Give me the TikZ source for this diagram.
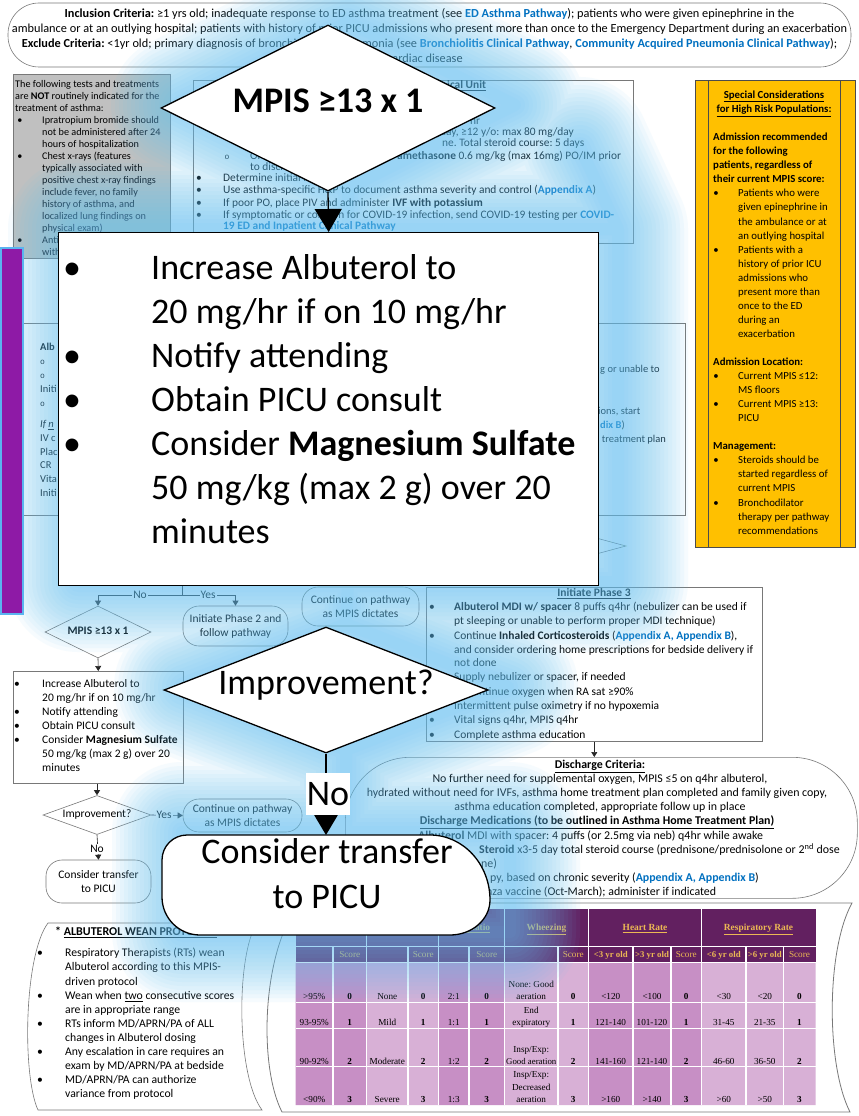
\documentclass[tikz,border=0pt]{standalone}
\usepackage{fontspec}
\setmainfont{Carlito}
\newfontfamily\tabfont{Liberation Serif}
\newfontfamily\monofont{Liberation Mono}
\usetikzlibrary{arrows.meta,shapes.geometric}

\definecolor{linkc}{RGB}{0,112,192}
\definecolor{edge}{RGB}{120,120,120}
\definecolor{grayfill}{RGB}{192,192,192}
\definecolor{gold}{RGB}{255,192,0}
\definecolor{barpurple}{RGB}{142,26,166}
\definecolor{barblue}{RGB}{90,180,240}
\definecolor{glowc}{RGB}{100,195,245}
\definecolor{hdrpurple}{RGB}{98,32,96}
\definecolor{hdrtext}{RGB}{236,184,84}
\definecolor{cellA}{RGB}{199,143,197}
\definecolor{cellB}{RGB}{216,176,214}

\newcommand\fs[1]{\fontsize{#1}{#1}\selectfont}
\newcommand\lnk[1]{\textcolor{linkc}{\textbf{#1}}}
\newcommand\subb{{\monofont\fs{8}o}}

% soft halo behind the enlarged flow
\newcommand\glowlayer[2]{%
  \draw[glowc, line width=#1pt, opacity=#2, line join=round, line cap=round]
    (328,25) -- (495,108) -- (328,191) -- (161,108) -- cycle
    (328,191) -- (328,232)
    (560,150) -- (598,232)
    (58,232) rectangle (598,585)
    (328,585) -- (326,627)
    (326,627) -- (488,690) -- (326,753) -- (164,690) -- cycle
    (326,753) -- (326,835)
    (162,835) rectangle (490,935);}

\begin{document}
\frenchspacing
\begin{tikzpicture}[x=1pt,y=-1pt,
  t/.style={inner sep=0pt, anchor=west, text height=.7em, text depth=.2em},
  tm/.style={inner sep=0pt, anchor=center, text height=.7em, text depth=.2em},
  basebox/.style={draw=edge, line width=.6pt, inner sep=0pt},
  conn/.style={draw=black!85, line width=.6pt},
  arr/.style={conn, -{Triangle[length=5pt,width=6pt]}},
  pill/.style={basebox, rounded corners=16pt, align=center, font=\fontsize{11.5}{14}\selectfont},
  lab/.style={fill=white, inner sep=1pt, font=\fs{11.5}},
  big/.style={draw=black, line width=1.3pt, fill=white, inner sep=0pt},
  bigarr/.style={draw=black, line width=1.3pt, -{Triangle[length=23pt,width=27pt]}},
  tcell/.style={tm, font=\tabfont\fs{9.2}},
  tbold/.style={tm, font=\tabfont\bfseries\fs{9.2}},
  thead/.style={tm, font=\tabfont\bfseries\fs{9.4}, text=hdrtext}
]
\useasboundingbox (0,0) rectangle (859,1116);
\fill[white] (0,0) rectangle (859,1116);

% ---------------- header ----------------
\node[basebox, rounded corners=31pt, minimum width=843pt, minimum height=64pt] (hdr) at (429.5,35) {};
\begin{scope}[font=\fs{12.3}]
\node[tm] (hl1) at (429.5,15.5) {\textbf{Inclusion Criteria:} ≥1 yrs old; inadequate response to ED asthma treatment (see \lnk{ED Asthma Pathway}); patients who were given epinephrine in the};
\node[tm] (hl2) at (429.5,30.5) {ambulance or at an outlying hospital; patients with history of prior PICU admissions who present more than once to the Emergency Department during an exacerbation};
\node[tm] (hl3) at (429.5,45.5) {\textbf{Exclude Criteria:} <1yr old; primary diagnosis of bronchiolitis or pneumonia (see \lnk{Bronchiolitis Clinical Pathway}, \lnk{Community Acquired Pneumonia Clinical Pathway});};
\node[tm] (hl4) at (425,60) {cardiac disease};
\end{scope}

% ---------------- not-indicated box ----------------
\node[basebox, fill=grayfill, anchor=north west, minimum width=157pt, minimum height=184pt] (gray) at (13,74) {};
\begin{scope}[font=\fs{10.2}]
\node[t] (g0) at (15,85.5) {The following tests and treatments};
\node[t] (g1) at (15,97.4) {are \textbf{NOT} routinely indicated for the};
\node[t] (g2) at (15,109.4) {treatment of asthma:};
\node[tm] (gb1) at (20,121.3) {•};
\node[t] (g3) at (42,121.3) {Ipratropium bromide should};
\node[t] (g4) at (42,133.2) {not be administered after 24};
\node[t] (g5) at (42,145.2) {hours of hospitalization};
\node[tm] (gb2) at (20,157.1) {•};
\node[t] (g6) at (42,157.1) {Chest x-rays (features};
\node[t] (g7) at (42,169.0) {typically associated with};
\node[t] (g8) at (42,181.0) {positive chest x-ray findings};
\node[t] (g9) at (42,192.9) {include fever, no family};
\node[t] (g10) at (42,204.8) {history of asthma, and};
\node[t] (g11) at (42,216.8) {localized lung findings on};
\node[t] (g12) at (42,228.7) {physical exam)};
\node[tm] (gb3) at (20,240.6) {•};
\node[t] (g13) at (42,240.6) {Anti};
\node[t] (g14) at (42,252.5) {with};
\end{scope}

% ---------------- phase 1 box ----------------
\node[basebox, anchor=north west, minimum width=440pt, minimum height=163pt] (p1) at (193,80) {};
\begin{scope}[font=\fs{11.4}]
\node[t] (p1h) at (447,86) {\textbf{\underline{ical Unit}}};
\node[t] (p1a) at (470,122) {hr};
\node[t] (p1b) at (440,133) {day, ≥12 y/o: max 80 mg/day};
\node[t] (p1c) at (442,144) {ne. Total steroid course: 5 days};
\node[tm] (p1s) at (227,157) {\subb};
\node[t] (p1d) at (250,157) {One};
\node[t] (p1e) at (397,157) {\textbf{amethasone} 0.6 mg/kg (max 16mg) PO/IM prior};
\node[t] (p1f) at (250,168) {to discharge};
\node[tm] (p1b1) at (199,179) {•};
\node[t] (p1g) at (223,179) {Determine initial MPIS};
\node[tm] (p1b2) at (199,191) {•};
\node[t] (p1h2) at (223,191) {Use asthma-specific H\&P to document asthma severity and control (\lnk{Appendix A})};
\node[tm] (p1b3) at (199,204) {•};
\node[t] (p1i) at (223,204) {If poor PO, place PIV and administer \textbf{IVF with potassium}};
\node[tm] (p1b4) at (199,216) {•};
\node[t] (p1j) at (223,216) {If symptomatic or concern for COVID-19 infection, send COVID-19 testing per \lnk{COVID-}};
\node[t] (p1k) at (223,227) {\lnk{19 ED and Inpatient Clinical Pathway}};
\end{scope}

% ---------------- high risk populations ----------------
\node[draw=black!70, line width=.8pt, fill=gold, anchor=north west, minimum width=160pt, minimum height=467pt, inner sep=0pt] (spec) at (695,80) {};
\draw[black!70, line width=.8pt] (708,80) -- (708,547) (840,80) -- (840,547);
\begin{scope}[font=\fs{10.8}]
\node[tm] (s0) at (774,96) {\textbf{\underline{Special Considerations}}};
\node[tm] (s1) at (774,110) {\textbf{\underline{for High Risk Populations:}}};
\node[t] (s3) at (713,138.2) {\textbf{Admission recommended}};
\node[t] (s4) at (713,152.2) {\textbf{for the following}};
\node[t] (s5) at (713,166.3) {\textbf{patients, regardless of}};
\node[t] (s6) at (713,180.3) {\textbf{their current MPIS score:}};
\node[tm] (sb1) at (716,194.4) {•};
\node[t] (s7) at (738,194.4) {Patients who were};
\node[t] (s8) at (738,208.4) {given epinephrine in};
\node[t] (s9) at (738,222.5) {the ambulance or at};
\node[t] (s10) at (738,236.5) {an outlying hospital};
\node[tm] (sb2) at (716,250.6) {•};
\node[t] (s11) at (738,250.6) {Patients with a};
\node[t] (s12) at (738,264.6) {history of prior ICU};
\node[t] (s13) at (738,278.7) {admissions who};
\node[t] (s14) at (738,292.7) {present more than};
\node[t] (s15) at (738,306.8) {once to the ED};
\node[t] (s16) at (738,320.8) {during an};
\node[t] (s17) at (738,334.9) {exacerbation};
\node[t] (s19) at (713,363.0) {\textbf{Admission Location:}};
\node[tm] (sb3) at (716,377.0) {•};
\node[t] (s20) at (738,377.0) {Current MPIS ≤12:};
\node[t] (s21) at (738,391.1) {MS floors};
\node[tm] (sb4) at (716,405.1) {•};
\node[t] (s22) at (738,405.1) {Current MPIS ≥13:};
\node[t] (s23) at (738,419.2) {PICU};
\node[t] (s25) at (713,447.3) {\textbf{Management:}};
\node[tm] (sb5) at (716,461.3) {•};
\node[t] (s26) at (738,461.3) {Steroids should be};
\node[t] (s27) at (738,475.4) {started regardless of};
\node[t] (s28) at (738,489.4) {current MPIS};
\node[tm] (sb6) at (716,503.5) {•};
\node[t] (s29) at (738,503.5) {Bronchodilator};
\node[t] (s30) at (738,517.5) {therapy per pathway};
\node[t] (s31) at (738,531.6) {recommendations};
\end{scope}

% ---------------- phase 2 box ----------------
\node[basebox, anchor=north west, minimum width=663pt, minimum height=192pt] (p2) at (22,323) {};
\begin{scope}[font=\fs{10.5}]
\node[t] (q0) at (40,348) {\textbf{Alb}};
\node[t] (q1) at (40,362) {\subb};
\node[t] (q2) at (40,376) {\subb};
\node[t] (q3) at (40,390) {Initi};
\node[t] (q4) at (40,404) {\subb};
\node[t] (q5) at (40,425) {\textit{If \underline{n}}};
\node[t] (q6) at (40,439) {IV c};
\node[t] (q7) at (40,453) {Plac};
\node[t] (q8) at (40,466) {CR};
\node[t] (q9) at (40,480) {Vita};
\node[t] (q10) at (40,494) {Initi};
\node[t] (q11) at (600,370) {g or unable to};
\node[t] (q12) at (598,412) {ions, start};
\node[t] (q13) at (600,426) {\lnk{dix B})};
\node[t] (q14) at (594,440) {e treatment plan};
\end{scope}
\node[diamond, basebox, minimum width=252pt, minimum height=68pt] (p2dec) at (500,546) {};

% ---------------- small decision flow ----------------
\coordinate (p2out) at (182,560);
\coordinate (split) at (182,595);
\node[diamond, basebox, minimum width=106pt, minimum height=52pt] (sd1) at (98,632) {};
\node[tm, font=\bfseries\fs{11.5}] (sd1t) at (sd1) {MPIS ≥13 x 1};
\node[pill, minimum width=105pt, minimum height=40pt] (rb1) at (235.5,626) {Initiate Phase 2 and\\follow pathway};
\node[pill, minimum width=117pt, minimum height=39pt] (rb2) at (360.5,606.5) {Continue on pathway\\as MPIS dictates};
\draw[conn] (p2out) -- (split);
\draw[arr] (split) -| (sd1.north);
\draw[arr] (split) -| (rb1.north);
\node[lab] (noA) at (140,595) {No};
\node[lab] (yesA) at (208,595) {Yes};

\node[basebox, anchor=north west, minimum width=170pt, minimum height=112pt] (sbox) at (13,671) {};
\draw[arr] (sd1.south) -- (sbox.north);
\begin{scope}[font=\fs{11.5}]
\node[tm] (sbb1) at (17,685) {•};
\node[t] (sl0) at (42,685) {Increase Albuterol to};
\node[t] (sl1) at (42,699) {20 mg/hr if on 10 mg/hr};
\node[tm] (sbb2) at (17,713) {•};
\node[t] (sl2) at (42,713) {Notify attending};
\node[tm] (sbb3) at (17,727) {•};
\node[t] (sl3) at (42,727) {Obtain PICU consult};
\node[tm] (sbb4) at (17,741) {•};
\node[t] (sl4) at (42,741) {Consider \textbf{Magnesium Sulfate}};
\node[t] (sl5) at (42,755) {50 mg/kg (max 2 g) over 20};
\node[t] (sl6) at (42,769) {minutes};
\end{scope}

\node[diamond, basebox, minimum width=108pt, minimum height=39pt] (sd2) at (97,815) {};
\node[tm, font=\fs{11.5}] (sd2t) at (sd2) {Improvement?};
\draw[arr] (sbox.south -| sd2.north) -- (sd2.north);
\node[pill, minimum width=119pt, minimum height=33pt] (rb3) at (242.5,815.5) {Continue on pathway\\as MPIS dictates};
\node[pill, minimum width=105pt, minimum height=43pt] (rb4) at (98.5,881.5) {Consider transfer\\to PICU};
\draw[arr] (sd2.east) -- (rb3.west);
\draw[arr] (sd2.south) -- (rb4.north);
\node[lab] (yesB) at (164,815) {Yes};
\node[lab] (noB) at (97,849) {No};

% ---------------- phase 3 box ----------------
\node[basebox, anchor=north west, minimum width=336pt, minimum height=154pt] (p3) at (426,587) {};
\begin{scope}[font=\fs{11.5}]
\node[tm] (p3h) at (594,594) {\textbf{\underline{Initiate Phase 3}}};
\node[tm] (p3b1) at (432,608) {•};
\node[t] (p30) at (454,608) {\textbf{Albuterol MDI w/ spacer} 8 puffs q4hr (nebulizer can be used if};
\node[t] (p31) at (454,622) {pt sleeping or unable to perform proper MDI technique)};
\node[tm] (p3b2) at (432,637) {•};
\node[t] (p32) at (454,637) {Continue \textbf{Inhaled Corticosteroids} (\lnk{Appendix A, Appendix B}),};
\node[t] (p33) at (454,651) {and consider ordering home prescriptions for bedside delivery if};
\node[t] (p34) at (454,664) {not done};
\node[t] (p35) at (454,678) {Supply nebulizer or spacer, if needed};
\node[t] (p36) at (454,693) {Discontinue oxygen when RA sat ≥90\%};
\node[t] (p37) at (454,707) {Intermittent pulse oximetry if no hypoxemia};
\node[tm] (p3b6) at (432,721) {•};
\node[t] (p38) at (454,721) {Vital signs q4hr, MPIS q4hr};
\node[tm] (p3b7) at (432,736) {•};
\node[t] (p39) at (454,736) {Complete asthma education};
\end{scope}

% ---------------- discharge ----------------
\node[basebox, rounded corners=65pt, anchor=north west, minimum width=512pt, minimum height=141pt] (dis) at (345,757) {};
\draw[arr] (p3.south) -- (dis.north -| p3.south);
\begin{scope}[font=\fs{11.9}]
\node[tm] (d0) at (600,766) {\textbf{\underline{Discharge Criteria:}}};
\node[tm] (d1) at (600,780) {No further need for supplemental oxygen, MPIS ≤5 on q4hr albuterol,};
\node[tm] (d2) at (597,794) {hydrated without need for IVFs, asthma home treatment plan completed and family given copy,};
\node[tm] (d3) at (600,808) {asthma education completed, appropriate follow up in place};
\node[tm] (d4) at (597,822) {\textbf{\underline{Discharge Medications (to be outlined in Asthma Home Treatment Plan)}}};
\node[t] (d5) at (418,837) {\textbf{Albuterol} MDI with spacer: 4 puffs (or 2.5mg via neb) q4hr while awake};
\node[t] (d6) at (479,851) {\textbf{Steroid} x3-5 day total steroid course (prednisone/prednisolone or 2\textsuperscript{nd} dose};
\node[t] (d7) at (481,865) {ne)};
\node[t] (d8) at (490,879) {py, based on chronic severity (\lnk{Appendix A, Appendix B})};
\node[t] (d9) at (486,893) {nza vaccine (Oct-March); administer if indicated};
\end{scope}

% ---------------- albuterol wean protocol ----------------
\draw[draw=edge, line width=.6pt] (48,923) -- (257,923) .. controls (236,955) and (236,1075) .. (262,1110)
   -- (38,1110) .. controls (22,1075) and (24,955) .. (48,923) -- cycle;
\node[t, font=\bfseries\fs{12}] (w0) at (55,933) {* \underline{ALBUTEROL WEAN PROTOCOL:}};
\begin{scope}[font=\fs{11.7}]
\node[tm] (wb1) at (40,954) {•};
\node[t] (w1) at (65,954) {Respiratory Therapists (RTs) wean};
\node[t] (w2) at (65,968) {Albuterol according to this MPIS-};
\node[t] (w3) at (65,983) {driven protocol};
\node[tm] (wb2) at (40,997) {•};
\node[t] (w4) at (65,997) {Wean when \underline{two} consecutive scores};
\node[t] (w5) at (65,1011) {are in appropriate range};
\node[tm] (wb3) at (40,1025) {•};
\node[t] (w6) at (65,1025) {RTs inform MD/APRN/PA of ALL};
\node[t] (w7) at (65,1039) {changes in Albuterol dosing};
\node[tm] (wb4) at (40,1053) {•};
\node[t] (w8) at (65,1053) {Any escalation in care requires an};
\node[t] (w9) at (65,1067) {exam by MD/APRN/PA at bedside};
\node[tm] (wb5) at (40,1081) {•};
\node[t] (w10) at (65,1081) {MD/APRN/PA can authorize};
\node[t] (w11) at (65,1095) {variance from protocol};
\end{scope}

% ---------------- MPIS score table ----------------
\draw[draw=edge, line width=.8pt] (300,903) -- (852,903) .. controls (826,950) and (826,1065) .. (850,1112)
   -- (282,1112) .. controls (258,1065) and (262,950) .. (300,903) -- cycle;
\fill[hdrpurple] (295.5,909) rectangle (815.5,962.5);
\fill[cellA] (295.5,962.5) rectangle (366.5,1105) (438.5,962.5) rectangle (504.5,1105) (588.5,962.5) rectangle (701.5,1105);
\fill[cellB] (366.5,962.5) rectangle (438.5,1105) (504.5,962.5) rectangle (588.5,1105) (701.5,962.5) rectangle (815.5,1105);
\draw[white, line width=1.5pt]
  (295.5,946.5) -- (815.5,946.5) (295.5,962.5) -- (815.5,962.5)
  (295.5,1002.5) -- (815.5,1002.5) (295.5,1028.5) -- (815.5,1028.5) (295.5,1066.5) -- (815.5,1066.5)
  (366.5,909) -- (366.5,1105) (438.5,909) -- (438.5,1105) (504.5,909) -- (504.5,1105)
  (588.5,909) -- (588.5,1105) (701.5,909) -- (701.5,1105)
  (333,946.5) -- (333,1105) (408,946.5) -- (408,1105) (469,946.5) -- (469,1105) (558,946.5) -- (558,1105)
  (633,946.5) -- (633,1105) (671,946.5) -- (671,1105) (746,946.5) -- (746,1105) (783.5,946.5) -- (783.5,1105);
\node[thead] (th3) at (471.5,928) {\underline{I:E Ratio}};
\node[thead] (th4) at (546.5,928) {\underline{Wheezing}};
\node[thead] (th5) at (645,928) {\underline{Heart Rate}};
\node[thead] (th6) at (758.5,928) {\underline{Respiratory Rate}};
\begin{scope}[every node/.style={tm, font=\tabfont\fs{9.2}, text=hdrtext}]
\node (sc1) at (349.75,955) {Score};
\node (sc2) at (423.25,955) {Score};
\node (sc3) at (486.75,955) {Score};
\node (sc4) at (573.25,955) {Score};
\node (sc5) at (686.25,955) {Score};
\node (sc6) at (799.5,955) {Score};
\node[font=\tabfont\bfseries\fs{8.8}] (ag1) at (610.75,955) {<3 yr old};
\node[font=\tabfont\bfseries\fs{8.8}] (ag2) at (652,955) {>3 yr old};
\node[font=\tabfont\bfseries\fs{8.8}] (ag3) at (723.75,955) {<6 yr old};
\node[font=\tabfont\bfseries\fs{8.8}] (ag4) at (764.75,955) {>6 yr old};
\end{scope}
\foreach \r/\y/\qa/\qb/\qc/\qd/\qe/\qf/\qh/\qi/\qj/\qk/\ql/\qm/\qn in {
  1/997/{>95\%}/0/None/0/2:1/0/0/{<120}/{<100}/0/{<30}/{<20}/0,
  2/1023/93-95\%/1/Mild/1/1:1/1/1/121-140/101-120/1/31-45/21-35/1,
  3/1062/90-92\%/2/Moderate/2/1:2/2/2/141-160/121-140/2/46-60/36-50/2,
  4/1100/{<90\%}/3/Severe/3/1:3/3/3/{>160}/{>140}/3/{>60}/{>50}/3}{
  \node[tcell] (ca\r) at (314.25,\y) {\qa};
  \node[tbold] (cb\r) at (349.75,\y) {\qb};
  \node[tcell] (cc\r) at (387.25,\y) {\qc};
  \node[tbold] (cd\r) at (423.25,\y) {\qd};
  \node[tcell] (ce\r) at (453.75,\y) {\qe};
  \node[tbold] (cf\r) at (486.75,\y) {\qf};
  \node[tbold] (ch\r) at (573.25,\y) {\qh};
  \node[tcell] (ci\r) at (610.75,\y) {\qi};
  \node[tcell] (cj\r) at (652,\y) {\qj};
  \node[tbold] (ck\r) at (686.25,\y) {\qk};
  \node[tcell] (cl\r) at (723.75,\y) {\ql};
  \node[tcell] (cm\r) at (764.75,\y) {\qm};
  \node[tbold] (cn\r) at (799.5,\y) {\qn};
}
\node[tcell] (wz1a) at (531.25,984.5) {None: Good};
\node[tcell] (wz1b) at (531.25,997) {aeration};
\node[tcell] (wz2a) at (531.25,1010.5) {End};
\node[tcell] (wz2b) at (531.25,1023) {expiratory};
\node[tcell] (wz3a) at (531.25,1049.5) {Insp/Exp:};
\node[tcell, font=\tabfont\fs{8.8}] (wz3b) at (531.25,1062) {Good aeration};
\node[tcell] (wz4a) at (531.25,1075) {Insp/Exp:};
\node[tcell] (wz4b) at (531.25,1087.5) {Decreased};
\node[tcell] (wz4c) at (531.25,1100) {aeration};

% ---------------- halo (offset slightly to the right) ----------------
\begin{scope}[shift={(20,-3)}]
\foreach \w in {140,132,...,12} {\glowlayer{\w}{.055}}
\end{scope}

% ---------------- side bar ----------------
\node[fill=barpurple, draw=barblue, line width=1.5pt, anchor=north west, minimum width=22pt, minimum height=366pt, inner sep=0pt] (bar) at (0,247) {};

% ---------------- enlarged flow ----------------
\node[diamond, big, minimum width=334pt, minimum height=166pt] (D1) at (328,108) {};
\node[tm, font=\bfseries\fs{36}] (D1t) at (328,110) {MPIS ≥13 x 1};
\node[big, anchor=north west, minimum width=540pt, minimum height=353pt] (B1) at (58,232) {};
\draw[bigarr] (D1.south) -- (B1.north);
\begin{scope}[font=\fs{36}]
\node[tm] (Bb1) at (72,277) {•};
\node[t] (Bl0) at (151,277) {Increase Albuterol to};
\node[t] (Bl1) at (151,321) {20 mg/hr if on 10 mg/hr};
\node[tm] (Bb2) at (72,365) {•};
\node[t] (Bl2) at (151,365) {Notify attending};
\node[tm] (Bb3) at (72,409) {•};
\node[t] (Bl3) at (151,409) {Obtain PICU consult};
\node[tm] (Bb4) at (72,453) {•};
\node[t] (Bl4) at (151,453) {Consider \textbf{Magnesium Sulfate}};
\node[t] (Bl5) at (151,497) {50 mg/kg (max 2 g) over 20};
\node[t] (Bl6) at (151,541) {minutes};
\end{scope}
\node[diamond, big, minimum width=324pt, minimum height=126pt] (D2) at (326,690) {};
\node[tm, font=\fs{36}] (D2t) at (326,692) {Improvement?};
% transfer box with unevenly rounded corners
\path[big] (187,835) -- (430,835) .. controls (463.1,835) and (490,864.1) .. (490,900)
   .. controls (490,919.3) and (472.1,935) .. (450,935) -- (200,935)
   .. controls (179,935) and (162,918) .. (162,897) -- (162,860)
   .. controls (162,846.2) and (173.2,835) .. (187,835) -- cycle;
\coordinate (B2) at (326,835);
\draw[bigarr] (D2.south) -- (B2);
\node[fill=white, minimum width=44pt, minimum height=42pt, inner sep=0pt, font=\fs{36}] (NoL) at (328,794) {No};
\node[tm, font=\fs{36}] (B2a) at (327,861) {Consider transfer};
\node[tm, font=\fs{36}] (B2b) at (327,906) {to PICU};
\end{tikzpicture}
\end{document}
